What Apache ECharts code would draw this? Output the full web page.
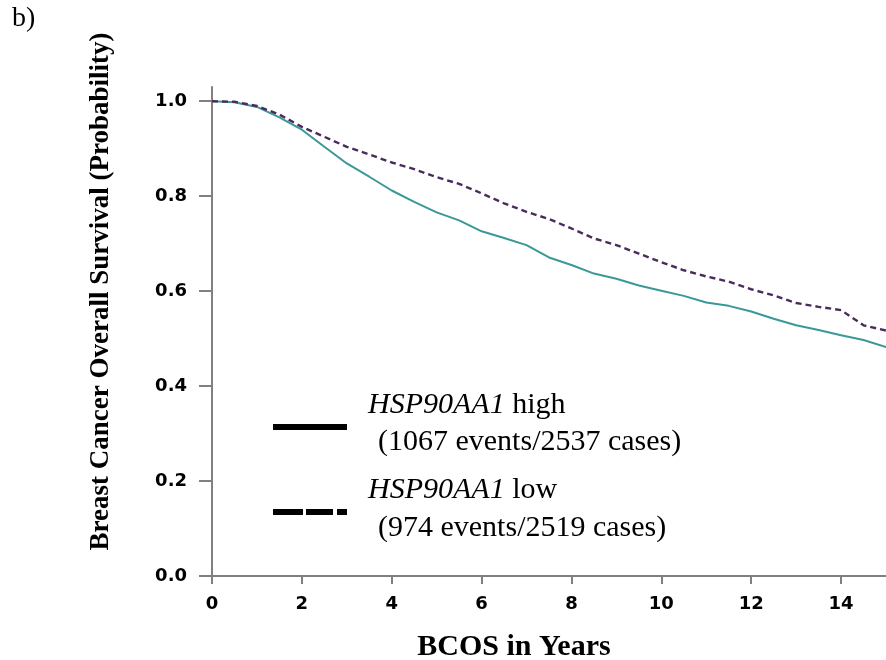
<!DOCTYPE html>
<html>
<head>
<meta charset="utf-8">
<script src="https://cdn.jsdelivr.net/npm/echarts@6/dist/echarts.min.js"></script>
<style>
  html, body { margin: 0; padding: 0; background: #fff; }
  #chart { width: 886px; height: 660px; }
</style>
</head>
<body>
<div id="chart"></div>
<script>
    // follow-up time in years
    var years = [0, 0.5, 1, 1.5, 2, 2.5, 3, 3.5, 4, 4.5, 5, 5.5, 6, 6.5, 7, 7.5,
        8, 8.5, 9, 9.5, 10, 10.5, 11, 11.5, 12, 12.5, 13, 13.5, 14, 14.5, 15];

    // HSP90AA1 high (solid)
    var highSurv = [1.000, 0.998, 0.988, 0.966, 0.940, 0.904, 0.869, 0.841, 0.812, 0.788,
        0.766, 0.749, 0.726, 0.712, 0.697, 0.671, 0.655, 0.637, 0.626, 0.612,
        0.601, 0.590, 0.576, 0.569, 0.557, 0.542, 0.528, 0.518, 0.507, 0.497, 0.482];

    // HSP90AA1 low (dashed)
    var lowSurv = [1.000, 0.999, 0.990, 0.972, 0.946, 0.925, 0.904, 0.888, 0.871, 0.857,
        0.840, 0.826, 0.806, 0.785, 0.767, 0.752, 0.732, 0.711, 0.697, 0.679,
        0.661, 0.644, 0.631, 0.620, 0.604, 0.591, 0.575, 0.567, 0.560, 0.528, 0.517];

    var yTicks = [0, 0.2, 0.4, 0.6, 0.8, 1.0];
    var xTicks = [0, 2, 4, 6, 8, 10, 12, 14];

    var legendRows = [
        { gene: 'HSP90AA1', level: 'high', note: '(1067 events/2537 cases)' },
        { gene: 'HSP90AA1', level: 'low', note: '(974 events/2519 cases)' }
    ];

    function pairs(xs, ys) {
        return xs.map(function (x, i) { return [x, ys[i]]; });
    }

    var chart = echarts.init(document.getElementById('chart'));

    var serif = '"Liberation Serif", "Times New Roman", serif';
    var axisColor = '#808080';

    var option = {
        animation: false,
        backgroundColor: '#fff',
        grid: { left: 212, right: 0, top: 87, bottom: 84, outerBoundsMode: 'none', containLabel: false },
        xAxis: {
            type: 'value',
            min: 0,
            max: 15,
            interval: 2,
            name: 'BCOS in Years',
            nameLocation: 'middle',
            nameGap: 56,
            nameTextStyle: {
                fontFamily: serif, fontWeight: 'bold', fontSize: 30, color: '#000',
                padding: [0, 70, 0, 0]
            },
            splitLine: { show: false },
            axisLine: { lineStyle: { color: axisColor, width: 2 } },
            axisTick: { length: 8, lineStyle: { color: axisColor, width: 2 }, customValues: xTicks },
            axisLabel: {
                customValues: xTicks,
                margin: 19,
                fontFamily: '"DejaVu Sans", sans-serif',
                fontWeight: 'bold',
                fontSize: 18,
                color: '#000'
            }
        },
        yAxis: {
            type: 'value',
            min: 0,
            max: 1.03,
            name: 'Breast Cancer Overall Survival (Probability)',
            nameLocation: 'middle',
            nameGap: 97,
            nameTextStyle: {
                fontFamily: serif, fontWeight: 'bold', fontSize: 27, color: '#000',
                padding: [0, 0, 0, 80]
            },
            splitLine: { show: false },
            axisLine: { onZero: false, lineStyle: { color: axisColor, width: 2 } },
            axisTick: { length: 13, lineStyle: { color: axisColor, width: 2 }, customValues: yTicks },
            axisLabel: {
                customValues: yTicks,
                margin: 25,
                fontFamily: '"DejaVu Sans", sans-serif',
                fontWeight: 'bold',
                fontSize: 18,
                color: '#000',
                formatter: function (v) { return v.toFixed(1); }
            }
        },
        series: [
            {
                name: 'HSP90AA1 high',
                type: 'line',
                data: pairs(years, highSurv),
                showSymbol: false,
                lineStyle: { color: '#3a9898', width: 2 }
            },
            {
                name: 'HSP90AA1 low',
                type: 'line',
                data: pairs(years, lowSurv),
                showSymbol: false,
                lineStyle: { color: '#4b2b5c', width: 2.4, type: [6, 4] }
            }
        ],
        graphic: [
            {
                type: 'text', left: 12, top: 5,
                style: { text: 'b)', font: '28px ' + serif, fill: '#000' }
            },
            // legend keys (drawn black, as in the figure)
            {
                type: 'rect', shape: { x: 273, y: 424, width: 74, height: 6 },
                style: { fill: '#000' }
            },
            {
                type: 'rect', shape: { x: 273, y: 509, width: 30, height: 6 },
                style: { fill: '#000' }
            },
            {
                type: 'rect', shape: { x: 306, y: 509, width: 27, height: 6 },
                style: { fill: '#000' }
            },
            {
                type: 'rect', shape: { x: 337, y: 509, width: 10, height: 6 },
                style: { fill: '#000' }
            }
        ]
    };

    // legend text rows
    var rowY = [[405, 442], [490, 528]];
    legendRows.forEach(function (row, i) {
        option.graphic.push({
            type: 'text', x: 368, y: rowY[i][0],
            style: {
                text: '{g|' + row.gene + '} ' + row.level,
                font: '30px ' + serif,
                fill: '#000',
                verticalAlign: 'middle',
                rich: { g: { fontFamily: serif, fontStyle: 'italic', fontSize: 30, fill: '#000' } }
            }
        });
        option.graphic.push({
            type: 'text', x: 378, y: rowY[i][1],
            style: { text: row.note, font: '30px ' + serif, fill: '#000', verticalAlign: 'middle' }
        });
    });

    chart.setOption(option);
</script>
</body>
</html>
